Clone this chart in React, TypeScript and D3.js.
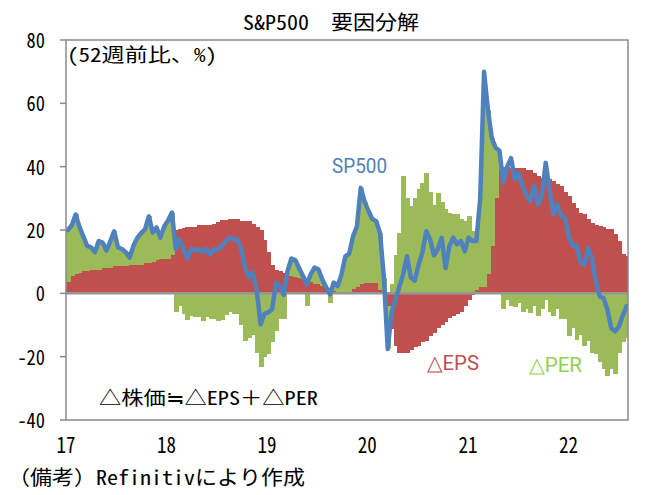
import React from "react";
import * as d3 from "d3";

// ---- data (bi-weekly, from 2017-01-01) ----
const SP500: number[] = [
  20, 21.5, 24.9, 21, 18, 15, 14.5, 13, 16.5, 16, 13.5, 16.5, 19.6, 14.5, 14, 13, 11.3, 15, 17.5, 19, 20.2, 24.3, 19.2, 20.8, 17.6, 21.2,
  23, 25.5, 14, 17, 14, 11, 14, 13.5, 14, 13, 14, 12.3, 14, 13.9, 15, 16.5, 17.6, 17, 17, 14, 8, 5, 6.5, 1, -9.8, -6.5,
  -6, -5, 3.4, 2.3, -0.5, 7, 11, 10.5, 8, 5.5, 2.8, 6, 8.1, 7.6, 4.4, 2, -0.3, 3.4, 2.3, 6, 11.7, 12.5, 18, 21.2, 33.3, 29,
  26, 23.5, 22.8, 19, 5, -17.6, -6, -2, 2, 6, 11.7, 5, 4, 9, 12.9, 19.6, 17, 12, 14, 17.5, 8, 14.9, 17.6, 15.5, 16.5, 13.3,
  17.6, 16.5, 16.5, 30, 70, 58, 49, 46, 45, 35, 40, 42.7, 36, 38, 33.8, 31, 29.1, 34, 28, 31, 41.2, 32.8, 25, 28, 24.3, 24,
  18, 15, 15, 10, 9, 14.4, 11, 4, -1, -1.5, -5, -11, -12, -10.5, -7, -4,
];

const EPS: number[] = [
  3.5, 5.5, 6, 6.5, 7, 7, 7.5, 7.5, 7.5, 8, 8, 8, 8.5, 8.5, 8.6, 8.6, 8.8, 9, 9, 9.1, 9.5, 9.5, 10, 10.5, 10.7, 11,
  11, 12, 20, 20.2, 20.5, 20.8, 21, 21, 21.5, 21.7, 21.5, 21.7, 22, 22.5, 23.3, 23.3, 23.5, 23.6, 23.5, 23, 23, 22.8, 22, 21, 20, 17,
  13, 9, 7.5, 7, 6.5, 6, 5.5, 5.2, 4.9, 4.5, 4, 3.5, 3, 2.8, 2.2, 1.7, 1.2, 0.7, 0.4, 0.2, 0.1, 0.5, 1.3, 2, 2.8, 3.3,
  3.4, 3.4, 3.2, 1, 0, -4, -11.3, -16.6, -18.7, -18.7, -18.7, -18, -17, -16.5, -15.5, -15, -13.5, -12.5, -11, -10, -9, -7.7, -7, -6.5, -6, -4,
  -2, -0.5, 1, 2, 2, 6, 15, 30, 39, 40, 40, 39.7, 39.7, 39.5, 39.5, 39, 39, 38, 37, 36.5, 36, 36, 35.5, 34.5, 33.8, 32,
  30.7, 28.5, 27, 25.5, 24.9, 23.5, 22.3, 21.5, 21.2, 20.8, 20.2, 20.2, 18.6, 16.5, 12.3, 11.7,
];

const PER: number[] = [
  16.5, 16, 18.9, 14.5, 11, 8, 7, 5.5, 9, 8, 5.5, 8.5, 11.1, 6, 5.4, 4.4, 2.5, 6, 8.5, 9.9, 10.7, 14.8, 9.2, 10.3, 6.9, 10.2,
  12, 13.5, -6, -4, -6.5, -8.5, -7, -7.5, -7.5, -8.7, -7.5, -8, -8, -8.6, -8.3, -6.8, -5.9, -6.6, -6.5, -10, -15, -14, -13, -18.7, -23.4, -20,
  -19, -15.5, -12, -8, -8, 1, 5.5, 5.3, 3.1, 1, -4, 2.5, 5.1, 4.8, 2.2, 0.3, -3, 2.7, 1.9, 5.8, 11.6, 12, 16.7, 19.2, 30.5, 25.7,
  22.6, 20.1, 19.6, 18, 5, -13.6, 3, 12, 19, 37, 30, 27.5, 30, 33, 35, 38, 32, 28, 31.7, 29, 26.5, 25.5, 24.9, 24.9, 23.5, 22.8,
  24.3, 19.6, 18, 28, 64, 52, 34, 16, 4, -5, -2, -4, -4.4, -3, -6, -5, -6.3, -4, -7, -5, -2, -6, -7, -5, -8, -8,
  -13.4, -11, -14.7, -13, -16.6, -15, -18.7, -19, -21.8, -24, -26, -24, -25.4, -18.7, -15.5, -14,
];

const Y_TICKS: number[] = [-40, -20, 0, 20, 40, 60, 80];
const X_YEARS: number[] = [2017, 2018, 2019, 2020, 2021, 2022];

const TITLE = "S&P500　要因分解";
const UNIT = "(52週前比、%)";
const NOTE = "△株価≒△EPS＋△PER";
const SOURCE = "（備考）Refinitivにより作成";

const START = new Date(2017, 0, 1);
const END = new Date(2022, 7, 5);
const STEP_DAYS = 14;

const COLORS = { eps: "#c0504d", per: "#9bbb59", line: "#4f81bd", perText: "#92d050" };
const JP = "'Noto Sans Mono CJK JP','Noto Sans CJK JP',sans-serif";

export default function App() {
  const W = 665, H = 495;
  const L = 66, R = 628, T = 40, B = 420;

  const dates = SP500.map((_, i) => d3.timeDay.offset(START, i * STEP_DAYS));
  const x = d3.scaleTime().domain([START, END]).range([L, R]);
  const y = d3.scaleLinear().domain([-40, 80]).range([B, T]);

  const rows = dates.map((d, i) => ({ date: d, eps: EPS[i], per: PER[i] }));
  const stack = d3.stack<any>().keys(["eps", "per"]).offset(d3.stackOffsetDiverging);
  const layers = stack(rows);

  const line = d3
    .line<number>()
    .x((_, i) => x(d3.timeDay.offset(dates[i], STEP_DAYS / 2)))
    .y((v) => y(v))
    .curve(d3.curveLinear);

  return (
    <svg width={W} height={H} style={{ position: "absolute", left: 0, top: 0, background: "#fff" }}>
      <defs>
        <clipPath id="plot">
          <rect x={L} y={T} width={R - L} height={B - T} />
        </clipPath>
      </defs>
      <rect x={0} y={0} width={W} height={H} fill="#fff" />
      <text x={331} y={30} fontFamily={JP} fontSize={20} textAnchor="middle" textLength={176} lengthAdjust="spacingAndGlyphs">
        {TITLE}
      </text>

      <g clipPath="url(#plot)">
        {layers.map((layer) => (
          <g key={layer.key} fill={layer.key === "eps" ? COLORS.eps : COLORS.per} shapeRendering="crispEdges">
            {layer.map((s, i) => {
              const x0 = Math.round(x(dates[i]));
              const x1 = Math.round(x(d3.timeDay.offset(dates[i], STEP_DAYS)));
              const ya = y(s[0]);
              const yb = y(s[1]);
              return (
                <rect
                  key={i}
                  x={x0}
                  width={x1 - x0 + 1}
                  y={Math.min(ya, yb)}
                  height={Math.abs(ya - yb)}
                />
              );
            })}
          </g>
        ))}
        <line x1={L} x2={R} y1={y(0)} y2={y(0)} stroke="#959595" strokeWidth={2.5} />
        <path d={line(SP500) || ""} fill="none" stroke={COLORS.line} strokeWidth={4.5} strokeLinejoin="round" strokeLinecap="round" />
      </g>

      <rect x={L} y={T} width={R - L} height={B - T} fill="none" stroke="#8a8a8a" strokeWidth={1.5} />

      {Y_TICKS.map((t) => {
        const label = String(t);
        return (
          <g key={t}>
            <line x1={L - 6} x2={L} y1={y(t)} y2={y(t)} stroke="#8a8a8a" strokeWidth={1.5} />
            <text x={45} y={y(t) + 8} fontFamily={JP} fontSize={21} textAnchor="end"
              textLength={label.length * 9.2} lengthAdjust="spacingAndGlyphs">
              {label}
            </text>
          </g>
        );
      })}

      {X_YEARS.map((yr) => (
        <text key={yr} x={x(new Date(yr, 0, 1))} y={453} fontFamily={JP} fontSize={22} textAnchor="middle"
          textLength={19} lengthAdjust="spacingAndGlyphs">
          {d3.timeFormat("%y")(new Date(yr, 0, 1))}
        </text>
      ))}

      <text x={67} y={62} fontFamily={JP} fontSize={19} textLength={150} lengthAdjust="spacingAndGlyphs">
        {UNIT}
      </text>
      <text x={332} y={172.5} fontFamily="Roboto, sans-serif" fontSize={21} fill={COLORS.line} textLength={55} lengthAdjust="spacingAndGlyphs">
        SP500
      </text>
      <text x={427} y={370} fontFamily="Roboto, sans-serif" fontSize={21} fill={COLORS.eps} textLength={52} lengthAdjust="spacingAndGlyphs">
        △EPS
      </text>
      <text x={529} y={372} fontFamily="Roboto, sans-serif" fontSize={21} fill={COLORS.perText} textLength={53} lengthAdjust="spacingAndGlyphs">
        △PER
      </text>
      <text x={99} y={405} fontFamily={JP} fontSize={19} textLength={219} lengthAdjust="spacingAndGlyphs">
        {NOTE}
      </text>
      <text x={8} y={485} fontFamily={JP} fontSize={20} textLength={297} lengthAdjust="spacingAndGlyphs">
        {SOURCE}
      </text>
    </svg>
  );
}
